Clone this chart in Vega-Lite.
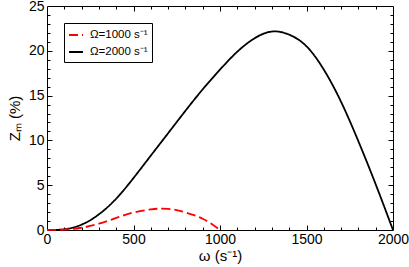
{
  "$schema": "https://vega.github.io/schema/vega-lite/v6.json",
  "autosize": {"type": "none"},
  "padding": {"left": 47, "top": 6, "right": 16, "bottom": 37},
  "width": 346,
  "height": 224,
  "config": {
    "view": {"stroke": "#000000", "strokeWidth": 1},
    "font": "Liberation Sans",
    "axis": {"domain": false, "grid": false, "tickColor": "#000000", "labelColor": "#000000", "titleColor": "#000000"}
  },
  "data": {
    "values": [
      {"w": 0, "z": 0, "s": "Ω=2000 s⁻¹"},
      {"w": 100, "z": 0.08, "s": "Ω=2000 s⁻¹"},
      {"w": 200, "z": 0.6, "s": "Ω=2000 s⁻¹"},
      {"w": 300, "z": 1.75, "s": "Ω=2000 s⁻¹"},
      {"w": 400, "z": 3.5, "s": "Ω=2000 s⁻¹"},
      {"w": 500, "z": 5.8, "s": "Ω=2000 s⁻¹"},
      {"w": 600, "z": 8.3, "s": "Ω=2000 s⁻¹"},
      {"w": 700, "z": 10.8, "s": "Ω=2000 s⁻¹"},
      {"w": 800, "z": 13.3, "s": "Ω=2000 s⁻¹"},
      {"w": 900, "z": 15.7, "s": "Ω=2000 s⁻¹"},
      {"w": 1000, "z": 17.9, "s": "Ω=2000 s⁻¹"},
      {"w": 1100, "z": 19.9, "s": "Ω=2000 s⁻¹"},
      {"w": 1200, "z": 21.4, "s": "Ω=2000 s⁻¹"},
      {"w": 1300, "z": 22.15, "s": "Ω=2000 s⁻¹"},
      {"w": 1400, "z": 21.8, "s": "Ω=2000 s⁻¹"},
      {"w": 1500, "z": 20.5, "s": "Ω=2000 s⁻¹"},
      {"w": 1600, "z": 17.9, "s": "Ω=2000 s⁻¹"},
      {"w": 1700, "z": 14.3, "s": "Ω=2000 s⁻¹"},
      {"w": 1800, "z": 9.9, "s": "Ω=2000 s⁻¹"},
      {"w": 1900, "z": 5.1, "s": "Ω=2000 s⁻¹"},
      {"w": 2000, "z": 0, "s": "Ω=2000 s⁻¹"},
      {"w": 0, "z": 0, "s": "Ω=1000 s⁻¹"},
      {"w": 100, "z": 0.05, "s": "Ω=1000 s⁻¹"},
      {"w": 200, "z": 0.25, "s": "Ω=1000 s⁻¹"},
      {"w": 300, "z": 0.7, "s": "Ω=1000 s⁻¹"},
      {"w": 400, "z": 1.35, "s": "Ω=1000 s⁻¹"},
      {"w": 500, "z": 1.95, "s": "Ω=1000 s⁻¹"},
      {"w": 600, "z": 2.3, "s": "Ω=1000 s⁻¹"},
      {"w": 650, "z": 2.38, "s": "Ω=1000 s⁻¹"},
      {"w": 700, "z": 2.36, "s": "Ω=1000 s⁻¹"},
      {"w": 750, "z": 2.22, "s": "Ω=1000 s⁻¹"},
      {"w": 800, "z": 1.97, "s": "Ω=1000 s⁻¹"},
      {"w": 850, "z": 1.65, "s": "Ω=1000 s⁻¹"},
      {"w": 900, "z": 1.25, "s": "Ω=1000 s⁻¹"},
      {"w": 950, "z": 0.7, "s": "Ω=1000 s⁻¹"},
      {"w": 1000, "z": 0, "s": "Ω=1000 s⁻¹"}
    ]
  },
  "layer": [
    {
      "mark": {"type": "line", "strokeWidth": 1.8, "interpolate": "natural"},
      "encoding": {
        "x": {"field": "w", "type": "quantitative", "scale": {"domain": [0, 2000], "nice": false, "zero": false},
          "axis": {"orient": "bottom", "values": [0, 500, 1000, 1500, 2000], "format": "d", "ticks": false, "labelPadding": 2, "labelFontSize": 14, "labelFlush": false, "title": "ω (s⁻¹)", "titleFontSize": 15, "titleFontWeight": "normal", "titlePadding": 2}},
        "y": {"field": "z", "type": "quantitative", "scale": {"domain": [0, 25], "nice": false, "zero": false},
          "axis": {"orient": "left", "values": [0, 5, 10, 15, 20, 25], "ticks": false, "labelPadding": 3, "labelFontSize": 14, "labelFlush": false, "title": "Zₘ (%)", "titleFontSize": 15, "titleFontWeight": "normal", "titlePadding": 6}},
        "color": {"field": "s", "type": "nominal", "scale": {"domain": ["Ω=1000 s⁻¹", "Ω=2000 s⁻¹"], "range": ["#ff0000", "#000000"]},
          "legend": {"title": null, "orient": "none", "legendX": 17, "legendY": 17, "strokeColor": "#000000", "fillColor": "#ffffff", "padding": 4, "symbolType": "stroke", "symbolSize": 196, "symbolStrokeWidth": 2, "labelFontSize": 11.5, "labelOffset": 6, "rowPadding": 3, "labelColor": "#000000"}},
        "strokeDash": {"field": "s", "type": "nominal", "scale": {"domain": ["Ω=1000 s⁻¹", "Ω=2000 s⁻¹"], "range": [[9, 4], [1, 0]]}, "legend": null}
      }
    },
    {
      "mark": {"type": "line", "opacity": 0},
      "encoding": {
        "x": {"field": "w", "type": "quantitative", "axis": {"orient": "bottom", "values": [500, 1000, 1500], "grid": true, "gridColor": "#000000", "gridOpacity": 1, "gridWidth": 1, "gridDash": [5, 214], "labels": false, "ticks": false, "domain": false, "title": null}},
        "y": {"field": "z", "type": "quantitative", "axis": {"orient": "left", "values": [5, 10, 15, 20], "grid": true, "gridColor": "#000000", "gridOpacity": 1, "gridWidth": 1, "gridDash": [5, 336], "labels": false, "ticks": false, "domain": false, "title": null}}
      }
    },
    {
      "mark": {"type": "line", "opacity": 0},
      "encoding": {
        "x": {"field": "w", "type": "quantitative", "axis": {"orient": "bottom", "values": [100, 200, 300, 400, 600, 700, 800, 900, 1100, 1200, 1300, 1400, 1600, 1700, 1800, 1900], "grid": true, "gridColor": "#000000", "gridOpacity": 1, "gridWidth": 1, "gridDash": [3, 218], "labels": false, "ticks": false, "domain": false, "title": null}},
        "y": {"field": "z", "type": "quantitative", "axis": {"orient": "left", "values": [1, 2, 3, 4, 6, 7, 8, 9, 11, 12, 13, 14, 16, 17, 18, 19, 21, 22, 23, 24], "grid": true, "gridColor": "#000000", "gridOpacity": 1, "gridWidth": 1, "gridDash": [3, 340], "labels": false, "ticks": false, "domain": false, "title": null}}
      }
    }
  ],
  "resolve": {"axis": {"x": "independent", "y": "independent"}}
}
